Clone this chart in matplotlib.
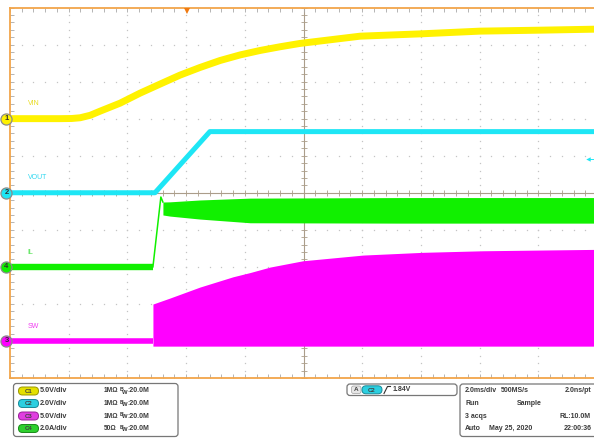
import numpy as np
import matplotlib
matplotlib.use('Agg')
import matplotlib.pyplot as plt
from matplotlib.patches import FancyBboxPatch

plt.rcParams['font.family'] = ['Liberation Sans', 'DejaVu Sans']

# ---------------- data (time in ms from the left edge of the screen) ----------------
vin_t = [0, 1.70, 2.10, 2.39, 2.73, 3.07, 3.75, 4.43, 5.11, 5.79, 6.47, 7.16, 7.84, 8.52, 9.20, 9.88, 11.93, 13.97, 16.01, 18.06, 20.0]
vin_v = [0.0, 0.0, 0.02, 0.12, 0.45, 1.01, 2.09, 3.44, 4.66, 5.87, 6.90, 7.85, 8.60, 9.20, 9.70, 10.15, 11.13, 11.44, 11.81, 11.94, 12.08]

vout_t = [0, 4.94, 6.81, 20.0]
vout_v = [0.0, 0.0, 3.3, 3.3]

il_t = [0, 4.87, 5.14, 5.21]
il_a = [0.0, 0.0, 3.77, 3.50]
il_band_t = [5.21, 5.45, 6.47, 8.18, 13.29, 20.0]
il_band_hi = [3.50, 3.51, 3.61, 3.71, 3.74, 3.74]
il_band_lo = [2.80, 2.74, 2.58, 2.38, 2.36, 2.36]

sw_t = [0, 4.87]
sw_v = [0.0, 0.0]
sw_env_t = [4.87, 5.45, 6.47, 7.60, 8.18, 8.86, 9.98, 12.03, 14.07, 16.12, 20.0]
sw_env_hi = [4.98, 5.79, 7.27, 8.66, 9.23, 9.97, 10.82, 11.59, 11.96, 12.17, 12.36]
sw_env_lo = [-0.7] * len(sw_env_t)

# channel settings
channels = {
    'VIN':  dict(num='1', scale=5.0, offset=2.0, color='#fff200', lab='#e8dc20'),
    'VOUT': dict(num='2', scale=2.0, offset=0.0, color='#1ee6f5', lab='#30d8f0'),
    'SW':   dict(num='3', scale=5.0, offset=-4.0, color='#ff00ff', lab='#f040f0'),
    'IL':   dict(num='4', scale=2.0, offset=-2.0, color='#11f000', lab='#40e040'),
}
trig_level = 1.84  # V on C2
trig_time = 6.02   # ms

info_left = [('C1', '5.0V/div', '1M\u03a9'), ('C2', '2.0V/div', '1M\u03a9'),
             ('C3', '5.0V/div', '1M\u03a9'), ('C4', '2.0A/div', '50\u03a9')]
pill_colors = {'C1': ('#e4e000', '#9a9600'), 'C2': ('#2ccfe0', '#1a8a98'),
               'C3': ('#e03ee0', '#982098'), 'C4': ('#2ed02e', '#1a8a1a')}


def div(name, vals):
    c = channels[name]
    return c['offset'] + np.asarray(vals, dtype=float) / c['scale']


# ---------------- figure ----------------
W, H = 594, 438
fig = plt.figure(figsize=(W / 100, H / 100), dpi=100)
fig.patch.set_facecolor('white')

ax = fig.add_axes([10 / W, 60 / H, 587 / W, 370.5 / H])
ax.set_xlim(0, 20)
ax.set_ylim(-5, 5)
ax.set_facecolor('white')

orange = '#f2a54a'
for s in ['left', 'top', 'bottom']:
    ax.spines[s].set_color(orange)
    ax.spines[s].set_linewidth(1.3)
ax.spines['right'].set_visible(False)

maj_x = np.arange(0, 20.01, 2)
min_x = np.arange(0, 20.01, 0.4)
maj_y = np.arange(-5, 5.01, 1)
min_y = np.arange(-5, 5.01, 0.2)
ax.set_xticks(maj_x)
ax.set_xticks(min_x, minor=True)
ax.set_yticks(maj_y)
ax.set_yticks(min_y, minor=True)
ax.tick_params(which='both', direction='in', length=2.6, width=0.6, color='#a8a8a8',
               top=True, right=False, bottom=True, left=True,
               labelbottom=False, labelleft=False)

# dotted graticule
dot_c = '#c4c4c4'
for xv in maj_x:
    if xv in (0, 10, 20):
        continue
    ax.plot(np.full(len(min_y), xv), min_y, ls='none', marker='s', ms=0.9, mew=0,
            color=dot_c, zorder=1)
for yv in maj_y:
    if yv in (-5, 0, 5):
        continue
    ax.plot(min_x, np.full(len(min_x), yv), ls='none', marker='s', ms=0.9, mew=0,
            color=dot_c, zorder=1)

# centre crosshair
cross_c = '#ab9d8a'
ax.axvline(10, color=cross_c, lw=0.8, zorder=1.5)
ax.axhline(0, color=cross_c, lw=0.8, zorder=1.5)
ax.plot(np.full(len(min_y), 10), min_y, ls='none', marker='_', ms=4.5, mew=0.6,
        color=cross_c, zorder=1.5)
ax.plot(min_x, np.zeros(len(min_x)), ls='none', marker='|', ms=4.5, mew=0.6,
        color=cross_c, zorder=1.5)

# ---------------- traces ----------------
c = channels['VIN']
ax.plot(vin_t, div('VIN', vin_v), color=c['color'], lw=5.0, solid_capstyle='butt', zorder=3)

c = channels['VOUT']
ax.plot(vout_t, div('VOUT', vout_v), color=c['color'], lw=3.6, solid_capstyle='butt',
        solid_joinstyle='round', zorder=3)

c = channels['IL']
ax.plot(il_t[:2], div('IL', il_a[:2]), color=c['color'], lw=4.6, solid_capstyle='butt', zorder=3)
ax.plot(il_t[1:], div('IL', il_a[1:]), color=c['color'], lw=1.1, zorder=3)
ax.fill_between(il_band_t, div('IL', il_band_lo), div('IL', il_band_hi),
                color=c['color'], lw=0, zorder=3)

c = channels['SW']
ax.plot(sw_t, div('SW', sw_v), color=c['color'], lw=4.0, solid_capstyle='butt', zorder=3)
ax.fill_between(sw_env_t, div('SW', sw_env_lo), div('SW', sw_env_hi),
                color=c['color'], lw=0, zorder=3)

# channel labels and markers
for name, c in channels.items():
    ax.text(0.6, c['offset'] + 0.40, name, color=c['lab'], fontsize=5.0,
            ha='left', va='center', zorder=4)
    ax.plot([-0.12], [c['offset']], marker='o', ms=8.0, mfc=c['color'], mec='#8c8c8c',
            mew=0.9, clip_on=False, zorder=6)
    ax.text(-0.12, c['offset'], c['num'], fontsize=5.5, fontweight='bold', color='#303030',
            ha='center', va='center', clip_on=False, zorder=7)

# trigger position marker (top) and trigger level marker (right, on C2)
ax.plot([trig_time], [4.9], marker='v', ms=5.0, color='#f07a10', mew=0, clip_on=False, zorder=6)
c = channels['VOUT']
lvl = c['offset'] + trig_level / c['scale']
ax.plot([19.68], [lvl], marker='<', ms=3.2, color=c['color'], mew=0, clip_on=False, zorder=6)
ax.plot([19.68, 20.0], [lvl, lvl], color=c['color'], lw=0.7, zorder=6)

# ---------------- info panel ----------------
iax = fig.add_axes([0, 0, 1, 60 / H])
iax.set_xlim(0, W)
iax.set_ylim(H, 378)
iax.axis('off')

txt_c = '#3a3a3a'
fs = 5.0


def rbox(x0, y0, x1, y1, ec='#777777', fc='white', r=3.0, lw=0.9, z=1):
    p = FancyBboxPatch((x0, y0), x1 - x0, y1 - y0,
                       boxstyle='round,pad=0,rounding_size=%g' % r,
                       ec=ec, fc=fc, lw=lw, zorder=z)
    iax.add_patch(p)


def pill(xc, yc, label):
    fc, ec = pill_colors[label]
    rbox(xc - 10, yc - 4, xc + 10, yc + 4, ec=ec, fc=fc, r=4, lw=0.7, z=3)
    iax.text(xc, yc + 0.3, label, fontsize=4.3, color='#404040', ha='center', va='center',
             fontweight='bold', zorder=4)


rbox(13.5, 383.5, 178, 436.5)
rows = [391, 403.5, 416, 428.5]
for yv, (cl, sc, imp) in zip(rows, info_left):
    pill(28.5, yv, cl)
    iax.text(40, yv, sc, fontsize=5.2, fontweight='bold', color=txt_c, ha='left', va='center')
    iax.text(103.5, yv, imp, fontsize=4.8, fontweight='bold', color=txt_c, ha='left', va='center')
    iax.text(119.2, yv - 1.4, 'B', fontsize=3.9, fontweight='bold', color=txt_c,
             ha='left', va='center')
    iax.text(121.6, yv + 1.0, 'W', fontsize=4.2, fontweight='bold', color=txt_c,
             ha='left', va='center')
    iax.text(127.0, yv, ':20.0M', fontsize=fs, fontweight='bold', color=txt_c,
             ha='left', va='center')

rbox(347, 384, 457, 395.5)
rbox(351.5, 386, 361, 393.5, ec='#a0a0a0', fc='#e6e6e6', r=2, lw=0.5, z=2)
iax.text(356.2, 389.9, 'A', fontsize=4.6, fontweight='bold', color='#404040',
         ha='center', va='center', zorder=3)
pill(372, 389.8, 'C2')
iax.plot([384, 387.5, 390.5], [393.5, 386.5, 386.5], color='#303030', lw=0.8)
iax.text(392.5, 389.8, '1.84V', fontsize=fs, fontweight='bold', color=txt_c,
         ha='left', va='center')

rbox(460, 384, 600, 436.5)
info_right = [
    [(465, '2.0ms/div', 'left'), (500.5, '500MS/s', 'left'), (591, '2.0ns/pt', 'right')],
    [(465, 'Run', 'left'), (517, 'Sample', 'left')],
    [(465, '3 acqs', 'left'), (591, 'RL:10.0M', 'right')],
    [(465, 'Auto', 'left'), (489, 'May 25, 2020', 'left'), (592, '22:00:36', 'right')],
]
for yv, row in zip(rows, info_right):
    for xv, s, ha in row:
        iax.text(xv, yv, s, fontsize=fs, fontweight='bold', color=txt_c, ha=ha, va='center')

fig.savefig('out.png', dpi=100, facecolor='white')
